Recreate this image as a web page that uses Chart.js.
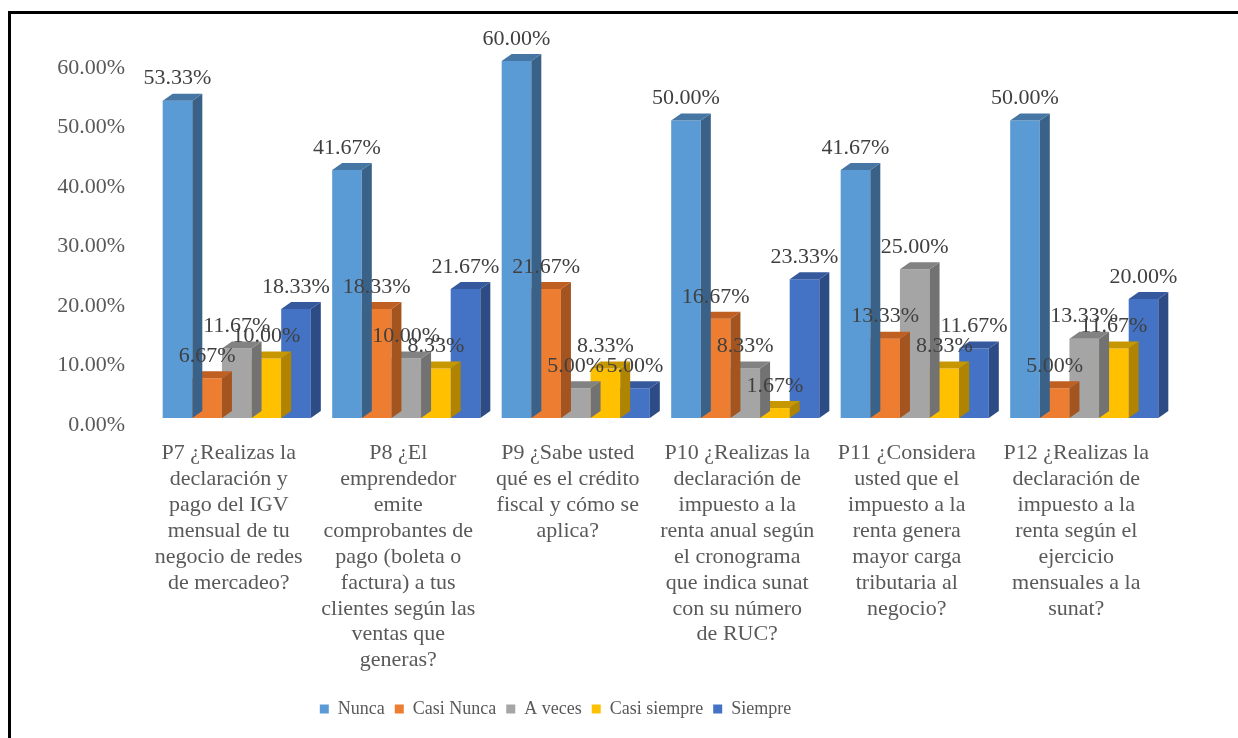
<!DOCTYPE html>
<html>
<head>
<meta charset="utf-8">
<script src="https://cdn.jsdelivr.net/npm/chart.js@4.4.1/dist/chart.umd.min.js"></script>
<style>
  html, body { margin: 0; padding: 0; background: #ffffff; }
  #wrap { position: relative; width: 1238px; height: 738px; overflow: hidden; }
  #frame { position: absolute; left: 8px; top: 11px; right: -10px; bottom: -10px;
           border-top: 3px solid #000; border-left: 3px solid #000; pointer-events: none; }
</style>
</head>
<body>
<div id="wrap">
  <canvas id="chart" width="1238" height="738"></canvas>
  <div id="frame"></div>
</div>
<script>
// Survey questions (one group of bars each)
const categories = [
  ["P7 ¿Realizas la", "declaración y", "pago del IGV", "mensual de tu", "negocio de redes", "de mercadeo?"],
  ["P8 ¿El", "emprendedor", "emite", "comprobantes de", "pago (boleta o", "factura) a tus", "clientes según las", "ventas que", "generas?"],
  ["P9 ¿Sabe usted", "qué es el crédito", "fiscal y cómo se", "aplica?"],
  ["P10 ¿Realizas la", "declaración de", "impuesto a la", "renta anual según", "el cronograma", "que indica sunat", "con su número", "de RUC?"],
  ["P11 ¿Considera", "usted que el", "impuesto a la", "renta genera", "mayor carga", "tributaria al", "negocio?"],
  ["P12 ¿Realizas la", "declaración de", "impuesto a la", "renta según el", "ejercicio", "mensuales a la", "sunat?"]
];

// Answer options
const seriesNames = ["Nunca", "Casi Nunca", "A veces", "Casi siempre", "Siempre"];

// Percentage of respondents per answer option
const nunca       = [53.33, 41.67, 60.00, 50.00, 41.67, 50.00];
const casiNunca   = [6.67, 18.33, 21.67, 16.67, 13.33, 5.00];
const aVeces      = [11.67, 10.00, 5.00, 8.33, 25.00, 13.33];
const casiSiempre = [10.00, 8.33, 8.33, 1.67, 8.33, 11.67];
const siempre     = [18.33, 21.67, 5.00, 23.33, 11.67, 20.00];

// Value axis ticks
const yTicks = [0, 10, 20, 30, 40, 50, 60];

const seriesValues = [nunca, casiNunca, aVeces, casiSiempre, siempre];

// Face colours: front, side (right) and top of each column
const frontColors = ["#5B9BD5", "#ED7D31", "#A5A5A5", "#FFC000", "#4472C4"];
const sideColors  = ["#3A6288", "#A3541F", "#727272", "#B08400", "#2D4C86"];
const topColors   = ["#4676A3", "#BF5F22", "#828282", "#C79700", "#35599C"];

const FONT = '"Liberation Serif", "Times New Roman", serif';
const DEPTH_X = 10;
const DEPTH_Y = 7;

// Extrudes each column with a right side face and a top face
const bar3d = {
  id: 'bar3d',
  afterDatasetDraw(chart, args) {
    const i = args.index;
    const ctx = chart.ctx;
    ctx.save();
    args.meta.data.forEach(bar => {
      const { x, y, base, width } = bar.getProps(['x', 'y', 'base', 'width'], true);
      const l = x - width / 2, r = x + width / 2;
      ctx.fillStyle = sideColors[i];
      ctx.beginPath();
      ctx.moveTo(r, base);
      ctx.lineTo(r + DEPTH_X, base - DEPTH_Y);
      ctx.lineTo(r + DEPTH_X, y - DEPTH_Y);
      ctx.lineTo(r, y);
      ctx.closePath();
      ctx.fill();
      ctx.fillStyle = topColors[i];
      ctx.beginPath();
      ctx.moveTo(l, y);
      ctx.lineTo(r, y);
      ctx.lineTo(r + DEPTH_X, y - DEPTH_Y);
      ctx.lineTo(l + DEPTH_X, y - DEPTH_Y);
      ctx.closePath();
      ctx.fill();
    });
    ctx.restore();
  }
};

// Percentage labels above each column
const valueLabels = {
  id: 'valueLabels',
  afterDatasetsDraw(chart) {
    const ctx = chart.ctx;
    ctx.save();
    ctx.font = '22px ' + FONT;
    ctx.fillStyle = '#404040';
    ctx.textAlign = 'center';
    ctx.textBaseline = 'middle';
    chart.data.datasets.forEach((ds, i) => {
      chart.getDatasetMeta(i).data.forEach((bar, j) => {
        const { x, y } = bar.getProps(['x', 'y'], true);
        ctx.fillText(ds.data[j].toFixed(2) + '%', x, y - 22);
      });
    });
    ctx.restore();
  }
};

// Places the legend row slightly left of the full-width centre
const legendShift = {
  id: 'legendShift',
  afterLayout(chart) {
    if (chart.legend) chart.legend.right -= 58;
  }
};

new Chart(document.getElementById('chart'), {
  type: 'bar',
  data: {
    labels: categories,
    datasets: seriesNames.map((name, i) => ({
      label: name,
      data: seriesValues[i],
      backgroundColor: frontColors[i],
      borderWidth: 0
    }))
  },
  options: {
    responsive: false,
    animation: false,
    layout: { padding: { left: 0, right: 69, top: 61, bottom: 10 } },
    datasets: { bar: { categoryPercentage: 0.874, barPercentage: 1 } },
    scales: {
      x: {
        grid: { display: false, drawTicks: false },
        border: { display: false },
        ticks: {
          color: '#595959',
          font: { family: FONT, size: 22, lineHeight: 1.18 },
          maxRotation: 0,
          autoSkip: false,
          padding: 22,
          labelOffset: -8
        },
        afterFit(scale) { scale.height = 272; }
      },
      y: {
        min: 0,
        max: 60,
        grid: { display: false, drawTicks: false },
        border: { display: false },
        afterBuildTicks(scale) { scale.ticks = yTicks.map(v => ({ value: v })); },
        ticks: {
          color: '#595959',
          font: { family: FONT, size: 22 },
          padding: 27,
          labelOffset: 7,
          callback: v => v.toFixed(2) + '%'
        },
        afterFit(scale) { scale.width = 152; }
      }
    },
    plugins: {
      legend: {
        position: 'bottom',
        labels: {
          boxWidth: 9,
          boxHeight: 9,
          color: '#595959',
          font: { family: FONT, size: 18 },
          padding: 10
        }
      },
      tooltip: { enabled: false }
    }
  },
  plugins: [bar3d, valueLabels, legendShift]
});
</script>
</body>
</html>
